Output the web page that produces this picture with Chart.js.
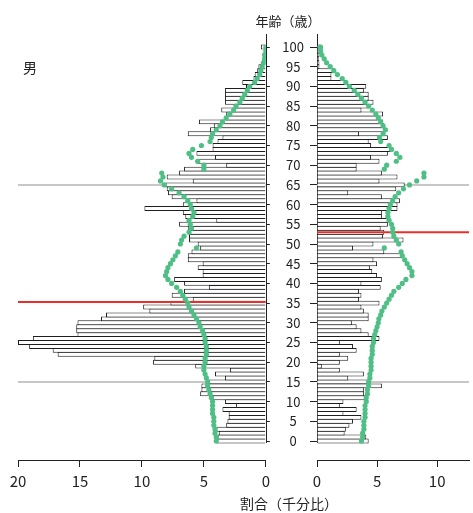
<!DOCTYPE html>
<html lang="ja">
<head>
<meta charset="utf-8">
<script src="https://cdn.jsdelivr.net/npm/chart.js@4.4.1/dist/chart.umd.min.js"></script>
<style>
  html, body { margin: 0; padding: 0; background: #fff; }
  body { width: 473px; height: 513px; position: relative; overflow: hidden;
         font-family: "Noto Sans CJK JP", "Noto Sans", sans-serif; color: #222; }
  .box { position: absolute; top: 0; height: 513px; }
  #left-box { left: 0; width: 275px; }
  #right-box { left: 270px; width: 203px; }
  .label { position: absolute; white-space: nowrap; line-height: 1; }
</style>
</head>
<body>
<div class="box" id="left-box"><canvas id="maleChart"></canvas></div>
<div class="box" id="right-box"><canvas id="femaleChart"></canvas></div>
<div class="label" style="left:288px; top:14px; font-size:13px; transform:translateX(-50%);">年齢（歳）</div>
<div class="label" style="left:23px; top:60px; font-size:14px;">男</div>
<div class="label" style="left:289px; top:496px; font-size:14px; transform:translateX(-50%);">割合（千分比）</div>
<script>
// 年齢 0〜100歳
const ages = [0,1,2,3,4,5,6,7,8,9,10,11,12,13,14,15,16,17,18,19,20,21,22,23,24,25,26,27,28,29,
  30,31,32,33,34,35,36,37,38,39,40,41,42,43,44,45,46,47,48,49,50,51,52,53,54,55,56,57,58,59,
  60,61,62,63,64,65,66,67,68,69,70,71,72,73,74,75,76,77,78,79,80,81,82,83,84,85,86,87,88,89,
  90,91,92,93,94,95,96,97,98,99,100];

// 男（左）各歳の割合（千分比）
const maleRatio = [
  4.0, 3.9, 3.8, 4.0, 3.2, 3.1, 3.0, 3.0, 3.5, 2.4,
  3.3, 4.3, 5.3, 5.2, 5.2, 4.6, 3.3, 4.1, 2.9, 5.7,
  9.1, 9.0, 16.8, 17.2, 19.1, 20.0, 18.8, 15.2, 15.3, 15.3,
  15.2, 13.3, 12.9, 9.4, 9.9, 7.7, 5.9, 7.6, 6.6, 4.6,
  6.6, 7.4, 5.1, 5.1, 5.5, 5.1, 6.3, 6.3, 6.0, 5.3,
  5.5, 6.2, 6.2, 6.2, 6.3, 7.0, 4.0, 6.5, 6.7, 9.8,
  6.7, 5.6, 7.6, 7.9, 8.0, 8.1, 5.9, 8.0, 7.0, 6.6,
  3.2, 5.6, 4.1, 5.6, 4.3, 4.3, 3.9, 3.5, 6.3, 4.5,
  4.2, 5.4, 3.2, 3.2, 3.6, 2.6, 3.3, 3.3, 3.3, 3.3,
  1.6, 1.9, 1.0, 0.9, 0.7, 0.6, 0.3, 0.2, 0.1, 0.1, 0.4
];

// 女（右）各歳の割合（千分比）
const femaleRatio = [
  4.3, 4.1, 2.3, 2.4, 2.7, 3.0, 3.7, 2.2, 3.3, 1.9,
  2.2, 4.1, 3.9, 3.9, 5.4, 4.3, 2.6, 3.9, 1.9, 0.4,
  1.9, 2.6, 1.9, 3.3, 3.0, 1.9, 5.2, 4.3, 3.7, 3.3,
  2.9, 4.3, 4.3, 3.9, 3.7, 5.2, 3.5, 3.7, 3.5, 5.3,
  3.7, 5.4, 5.0, 4.6, 4.4, 5.0, 4.7, 7.0, 5.6, 3.0,
  4.7, 7.2, 5.5, 5.6, 5.3, 5.9, 5.9, 5.4, 5.4, 6.7,
  6.7, 6.9, 5.4, 2.6, 6.6, 7.3, 5.2, 6.7, 5.4, 3.3,
  3.3, 5.2, 4.5, 5.9, 6.1, 4.5, 4.3, 5.9, 3.5, 5.6,
  5.6, 5.5, 5.0, 5.5, 3.7, 4.3, 4.7, 4.3, 4.3, 3.9,
  4.1, 2.4, 1.2, 1.2, 1.5, 0.2, 0.2, 0.15, 0.2, 0.3, 0.3
];

// 比較用（緑の点線）
const maleRef = [
  4.0, 4.0, 4.1, 4.1, 4.2, 4.2, 4.2, 4.3, 4.3, 4.3,
  4.3, 4.4, 4.5, 4.6, 4.7, 4.7, 4.8, 4.9, 5.0, 5.0,
  4.9, 4.9, 4.8, 4.8, 4.8, 4.9, 4.9, 5.0, 5.1, 5.3,
  5.4, 5.6, 5.8, 6.0, 6.2, 6.3, 6.5, 6.7, 6.9, 7.2,
  7.6, 7.9, 8.1, 8.0, 7.9, 7.7, 7.5, 7.3, 7.1, 5.6,
  6.9, 6.8, 6.6, 6.2, 6.0, 6.1, 6.2, 5.9, 5.8, 6.0,
  6.1, 6.3, 6.6, 7.0, 7.6, 8.2, 8.5, 8.3, 8.4, 5.0,
  5.0, 5.5, 6.0, 6.2, 5.9, 5.2, 4.5, 4.4, 4.3, 4.0,
  3.7, 3.5, 3.2, 2.9, 2.6, 2.4, 2.1, 1.9, 1.7, 1.5,
  1.3, 0.9, 0.7, 0.5, 0.4, 0.3, 0.2, 0.1, 0.1, 0.0, 0.0
];
const femaleRef = [
  3.7, 3.8, 3.8, 3.9, 3.9, 3.9, 4.0, 4.0, 4.0, 4.0,
  4.1, 4.1, 4.2, 4.2, 4.3, 4.3, 4.4, 4.4, 4.5, 4.5,
  4.5, 4.5, 4.6, 4.6, 4.6, 4.7, 4.7, 4.8, 4.9, 5.0,
  5.1, 5.15, 5.3, 5.4, 5.6, 5.8, 6.0, 6.2, 6.4, 6.8,
  7.1, 7.4, 7.9, 7.9, 7.7, 7.5, 7.3, 7.1, 7.0, 5.6,
  6.8, 6.6, 6.4, 6.3, 6.3, 6.2, 6.0, 5.9, 5.9, 6.0,
  6.1, 6.3, 6.5, 6.8, 7.2, 7.7, 8.3, 8.9, 8.9, 5.6,
  5.8, 6.6, 6.9, 6.6, 6.2, 6.0, 5.3, 5.2, 5.5, 5.7,
  5.5, 5.3, 5.1, 4.9, 4.6, 4.3, 4.0, 3.7, 3.4, 3.1,
  2.7, 2.4, 2.1, 1.7, 1.4, 1.1, 0.8, 0.6, 0.4, 0.3, 0.3
];

// 赤線（平均年齢）と灰色の区切り線
const maleMeanAge = 35.3;
const femaleMeanAge = 53.0;
const guideAges = [15, 65];

// 軸の範囲と目盛り
const ageMin = -4.82;
const ageMax = 103.3;
const ageStep = 5;
const maleMax = 20;
const femaleMax = 12.65;
const ratioStep = 5;

Chart.defaults.font.family = '"Noto Sans CJK JP", "Noto Sans", sans-serif';
Chart.defaults.color = '#222';

function toPoints(vals) {
  return ages.map((a, i) => ({ x: vals[i], y: a }));
}

// 縦軸の線（0〜100歳の範囲だけ）
const axisLine = {
  id: 'axisLine',
  beforeDatasetsDraw(chart) {
    const { ctx, scales: { x, y } } = chart;
    const px = Math.round(x.getPixelForValue(0)) + 0.5;
    ctx.save();
    ctx.strokeStyle = '#222';
    ctx.lineWidth = 1;
    ctx.beginPath();
    ctx.moveTo(px, chart.chartArea.top);
    ctx.lineTo(px, y.getPixelForValue(-0.5));
    ctx.stroke();
    ctx.restore();
  }
};

function makeChart(canvasId, ratio, ref, meanAge, xMax, isLeft) {
  const datasets = [];

  guideAges.forEach(g => {
    datasets.push({
      type: 'line',
      data: [{ x: 0, y: g }, { x: xMax, y: g }],
      borderColor: '#b4b4b4',
      borderWidth: 1.5,
      pointRadius: 0,
      order: 4
    });
  });

  datasets.push({
    type: 'bar',
    indexAxis: 'y',
    data: toPoints(ratio),
    backgroundColor: '#ffffff',
    borderColor: '#1e1e1e',
    borderWidth: 1,
    barPercentage: 1.25,
    categoryPercentage: 1,
    order: 3
  });

  datasets.push({
    type: 'line',
    data: [{ x: 0, y: meanAge }, { x: xMax, y: meanAge }],
    borderColor: '#e8302a',
    borderWidth: 2,
    pointRadius: 0,
    order: 2
  });

  datasets.push({
    type: 'scatter',
    data: toPoints(ref),
    backgroundColor: '#4fbf86',
    borderWidth: 0,
    pointRadius: 2.6,
    order: 1
  });

  return new Chart(document.getElementById(canvasId), {
    type: 'bar',
    data: { datasets },
    options: {
      responsive: true,
      maintainAspectRatio: false,
      animation: false,
      layout: { padding: { left: isLeft ? 18 : 0, top: 34, right: 0, bottom: 0 } },
      plugins: { legend: { display: false }, tooltip: { enabled: false } },
      scales: {
        x: {
          type: 'linear',
          reverse: isLeft,
          min: 0,
          max: xMax,
          offset: false,
          ticks: { stepSize: ratioStep, includeBounds: false, font: { size: 15 }, color: '#222', padding: 5 },
          grid: { drawOnChartArea: false, offset: false, tickLength: 7, color: '#222' },
          border: { color: '#222' },
          afterFit: s => { s.height = 53; }
        },
        y: {
          type: 'linear',
          position: isLeft ? 'right' : 'left',
          min: ageMin,
          max: ageMax,
          offset: false,
          ticks: {
            display: !isLeft,
            stepSize: ageStep,
            includeBounds: false,
            maxTicksLimit: 40,
            crossAlign: 'center',
            padding: 6,
            font: { size: 13 },
            color: '#222'
          },
          grid: { drawOnChartArea: false, offset: false, tickLength: isLeft ? 4 : 7, color: '#222' },
          border: { display: false },
          afterFit: s => { s.width = isLeft ? 8 : 47; }
        }
      }
    },
    plugins: [axisLine]
  });
}

makeChart('maleChart', maleRatio, maleRef, maleMeanAge, maleMax, true);
makeChart('femaleChart', femaleRatio, femaleRef, femaleMeanAge, femaleMax, false);
</script>
</body>
</html>
